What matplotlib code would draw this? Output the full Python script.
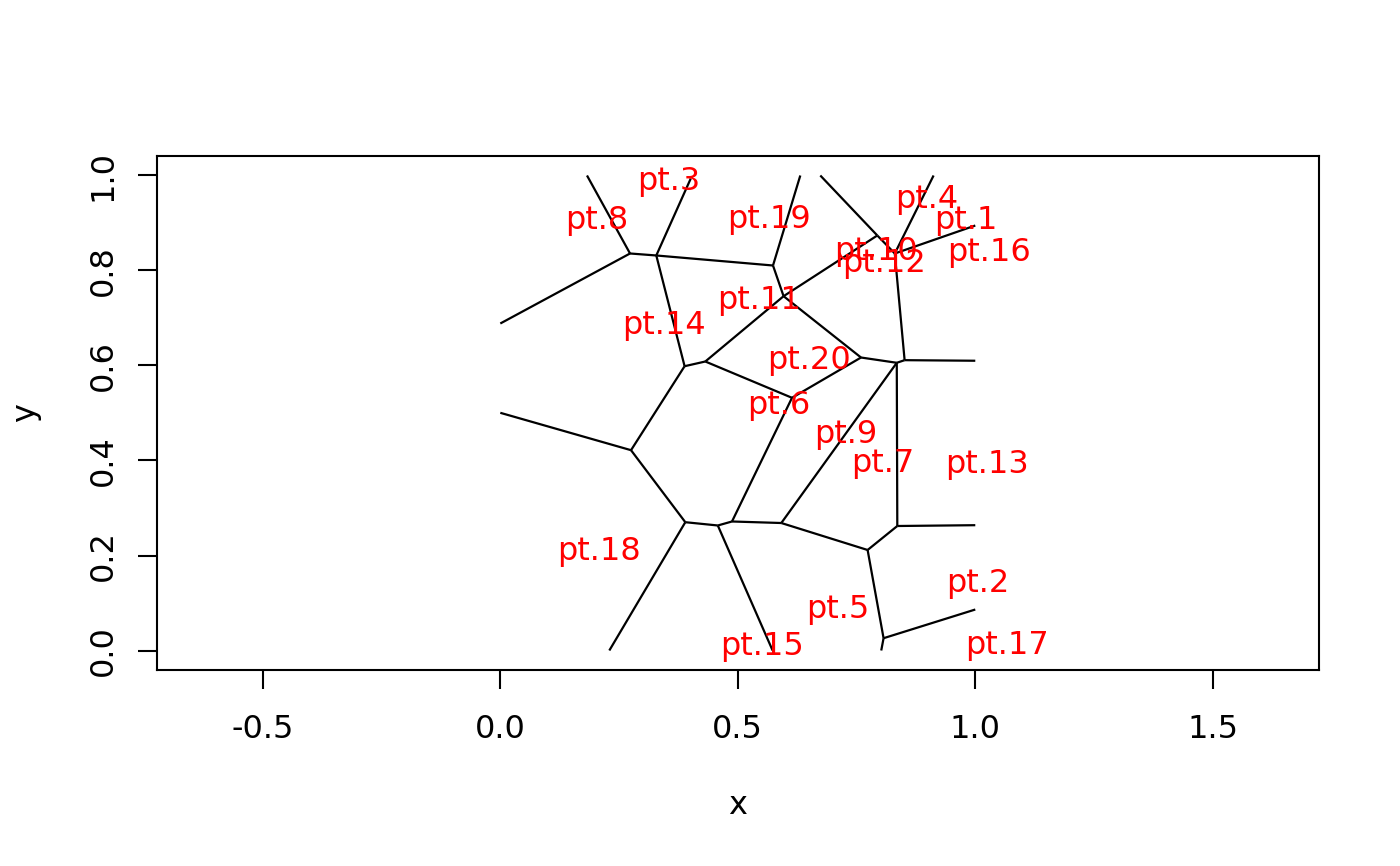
import matplotlib
matplotlib.use("Agg")
import matplotlib.pyplot as plt

plt.rcParams['font.family'] = ['DejaVu Sans']
plt.rcParams['axes.unicode_minus'] = False

# Voronoi (Dirichlet) tile edges: start and end coordinates
seg_x0 = [0.2731, 0.2731, 0.2731, 0.3284, 0.3284, 0.3284, 0.5741, 0.5741,
          0.5964, 0.5964, 0.5964, 0.7937, 0.7937, 0.8305, 0.8305, 0.8305,
          0.8512, 0.8512, 0.7594, 0.7594, 0.8347, 0.8347, 0.8358, 0.8358,
          0.7733, 0.7733, 0.8069, 0.8069, 0.5916, 0.4878, 0.4878, 0.4579,
          0.4579, 0.3895, 0.3895, 0.2752, 0.2752, 0.3880, 0.4316]
seg_y0 = [0.8358, 0.8358, 0.8358, 0.8316, 0.8316, 0.8316, 0.8105, 0.8105,
          0.7459, 0.7459, 0.7459, 0.8737, 0.8737, 0.8358, 0.8358, 0.8358,
          0.6112, 0.6112, 0.6168, 0.6168, 0.6057, 0.6057, 0.2621, 0.2621,
          0.2116, 0.2116, 0.0259, 0.0259, 0.2684, 0.2716, 0.2716, 0.2632,
          0.2632, 0.2701, 0.2701, 0.4217, 0.4217, 0.5985, 0.6084]
seg_x1 = [0.0000, 0.1825, 0.3284, 0.4010, 0.5741, 0.3880, 0.6316, 0.5964,
          0.7937, 0.7594, 0.4316, 0.6737, 0.8305, 0.9122, 1.0000, 0.8512,
          1.0000, 0.8347, 0.8347, 0.6141, 0.5916, 0.8358, 1.0000, 0.7733,
          0.5916, 0.8069, 0.8020, 1.0000, 0.4878, 0.6141, 0.4579, 0.3895,
          0.5733, 0.2295, 0.2752, 0.0000, 0.3880, 0.4316, 0.6141]
seg_y1 = [0.6884, 1.0000, 0.8316, 0.9937, 0.8105, 0.5985, 1.0000, 0.7459,
          0.8737, 0.6168, 0.6084, 1.0000, 0.8358, 1.0000, 0.8947, 0.6112,
          0.6100, 0.6057, 0.6057, 0.5320, 0.2684, 0.2621, 0.2638, 0.2116,
          0.2684, 0.0259, 0.0000, 0.0863, 0.2716, 0.5320, 0.2632, 0.2701,
          0.0000, 0.0000, 0.4217, 0.5004, 0.5985, 0.6084, 0.5320]

# Point labels
label_text = ["pt.1", "pt.2", "pt.3", "pt.4", "pt.5", "pt.6", "pt.7", "pt.8",
              "pt.9", "pt.10", "pt.11", "pt.12", "pt.13", "pt.14", "pt.15",
              "pt.16", "pt.17", "pt.18", "pt.19", "pt.20"]
label_x = [0.9807, 1.0046, 0.3543, 0.8975, 0.7105, 0.5859, 0.8046, 0.2028,
           0.7263, 0.7920, 0.5457, 0.8070, 1.0246, 0.3453, 0.5509, 1.0290,
           1.0667, 0.2084, 0.5648, 0.6491]
label_y = [0.9122, 0.1486, 0.9943, 0.9571, 0.0947, 0.5227, 0.4013, 0.9122,
           0.4611, 0.8470, 0.7444, 0.8223, 0.3979, 0.6926, 0.0154, 0.8448,
           0.0175, 0.2168, 0.9137, 0.6189]

x_ticks = [-0.5, 0.0, 0.5, 1.0, 1.5]
x_tick_labels = ["-0.5", "0.0", "0.5", "1.0", "1.5"]
y_ticks = [0.0, 0.2, 0.4, 0.6, 0.8, 1.0]
y_tick_labels = ["0.0", "0.2", "0.4", "0.6", "0.8", "1.0"]

fig = plt.figure(figsize=(14, 8.66), dpi=100)
ax = fig.add_axes([0.1119, 0.2269, 0.8302, 0.5924])

for xa, ya, xb, yb in zip(seg_x0, seg_y0, seg_x1, seg_y1):
    ax.plot([xa, xb], [ya, yb], color='black', linewidth=1.6,
            solid_capstyle='butt')

for t, x, y in zip(label_text, label_x, label_y):
    ax.text(x, y, t, color='red', fontsize=23, ha='center',
            va='center_baseline')

ax.set_xlim(-0.7235, 1.7235)
ax.set_ylim(-0.04, 1.04)

ax.set_xticks(x_ticks)
ax.set_xticklabels(x_tick_labels)
ax.set_yticks(y_ticks)
ax.set_yticklabels(y_tick_labels, rotation=90, va='center')

ax.tick_params(axis='both', direction='out', length=13.9, width=1.5,
               labelsize=23, color='black')
ax.tick_params(axis='x', pad=18)
ax.tick_params(axis='y', pad=13.5)

for s in ax.spines.values():
    s.set_linewidth(1.5)

ax.set_xlabel("x", fontsize=23)
ax.set_ylabel("y", fontsize=23)
ax.xaxis.set_label_coords(0.5, -0.2656)
ax.xaxis.label.set_va('center')
ax.yaxis.set_label_coords(-0.1127, 0.5)
ax.yaxis.label.set_va('center')
ax.yaxis.label.set_ha('center')

fig.savefig("out.png", dpi=100)
